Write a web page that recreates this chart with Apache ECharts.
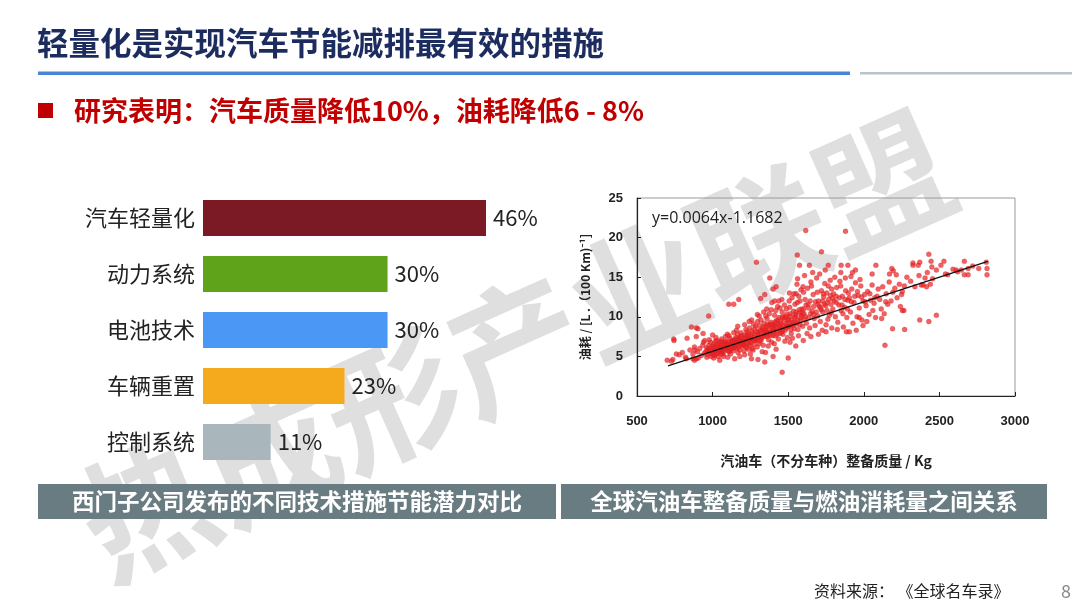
<!DOCTYPE html>
<html>
<head>
<meta charset="utf-8">
<script src="https://cdn.jsdelivr.net/npm/echarts@6/dist/echarts.min.js"></script>
<style>
  html, body { margin: 0; padding: 0; background: #fff; }
  #chart { width: 1080px; height: 608px; }
</style>
</head>
<body>
<div id="chart"></div>
<script>
const FONT = "'Noto Sans CJK SC', 'Noto Sans', sans-serif";

// 柱状图：不同技术措施节能潜力
const barCategories = ["汽车轻量化", "动力系统", "电池技术", "车辆重置", "控制系统"];
const barValues = [46, 30, 30, 23, 11];
const barColors = ["#7b1a24", "#5fa31a", "#4b97f6", "#f5aa1e", "#a9b6bb"];

// 散点图：整备质量(kg) 与 油耗(L/100km)
const xTicks = [500, 1000, 1500, 2000, 2500, 3000];
const yTicks = [0, 5, 10, 15, 20, 25];
const trendLine = [[705, 3.8], [2820, 17.0]];
const outlierPoints = [
  [700,4.5],[728,4.4],[743,7.2],[745,7.0],[760,5.3],[737,4.6],[831,7.3],[860,8.7],[893,8.6],[903,8.5],
  [870,4.7],[880,4.5],[826,4.7],[892,4.7],[882,5.8],[892,7.5],[937,7.9],[948,7.0],[974,10.1],[1000,7.7],
  [1107,11.6],[1140,11.6],[1173,12.2],[1290,16.9],[1318,12.3],[1345,12.8],[1378,14.9],[1400,13.5],[1410,12.0],[1420,13.8],
  [1146,4.7],[1212,5.2],[1047,4.5],[1257,4.7],[1345,4.3],[1400,5.0],[1460,3.0],[1500,4.8],
  [1616,20.9],[1879,20.8],[1560,17.8],[1575,16.5],[1640,16.5],[1720,18.2],[1765,16.5],[1850,16.5],[1895,16.5],[1925,15.6],
  [1945,15.9],[1885,8.1],[1905,8.1],[1995,8.9],[1970,9.9],[2055,15.4],[2080,16.5],[2170,15.4],[2185,16.1],[2195,15.8],
  [2215,15.3],[2190,8.5],[2140,6.4],[2255,13.2],[2265,10.8],[2255,10.8],[2270,8.4],[2325,16.8],[2360,16.5],[2370,16.9],
  [2325,16.5],[2405,14.9],[2440,14.1],[2380,14.0],[2370,9.6],[2430,17.9],[2445,17.0],[2450,16.3],[2415,13.8],[2430,9.4],
  [2480,10.2],[2510,16.5],[2530,17.0],[2555,15.3],[2610,15.9],[2645,15.9],[2665,17.0],[2665,15.3],[2690,15.3],[2690,16.1],
  [2810,16.9],[2815,16.1],[2815,15.3],
  [780,5.2],[800,5.5],[820,4.9],[850,5.8],[870,5.3],[880,6.2],[900,5.6],[915,6.0],[925,5.1],[935,6.4],
  [945,5.4],[905,4.8],[940,6.8],[1100,4.9],[1180,5.0],[1250,5.3],[1300,4.6],[1350,5.5],[1420,5.9],[1550,6.3],
  [1600,7.0],[1650,7.5],[1700,7.8],[1750,8.1]
];
const clusterPoints = [
  [955,5.6],[960,6.1],[965,5.2],[970,5.9],[975,6.4],[980,5.5],[985,6.8],[990,5.0],[995,6.2],[962,4.9],[978,7.1],[992,5.7],
  [1000,5.4],[1005,6.0],[1010,6.6],[1015,5.1],[1020,5.8],[1025,6.3],[1030,7.0],[1035,5.5],[1040,6.1],[1045,6.8],[1008,4.8],[1022,7.4],[1038,5.0],[1048,5.9],
  [1050,6.4],[1055,5.7],[1060,7.2],[1065,6.0],[1070,5.3],[1075,6.7],[1080,6.2],[1085,7.5],[1090,5.8],[1095,6.5],[1058,6.9],[1072,5.0],[1088,6.9],[1098,7.8],[1062,5.5],
  [1100,6.1],[1105,6.8],[1110,5.6],[1115,7.3],[1120,6.4],[1125,5.9],[1130,7.0],[1135,6.6],[1140,8.0],[1145,6.2],[1108,7.6],[1118,5.3],[1128,6.9],[1138,5.7],[1148,7.2],[1112,6.3],
  [1150,6.8],[1155,7.4],[1160,6.0],[1165,7.8],[1170,6.5],[1175,7.1],[1180,5.8],[1185,6.9],[1190,7.6],[1195,6.3],[1158,8.3],[1168,5.5],[1178,7.3],[1188,8.0],[1198,6.7],[1152,6.2],
  [1200,7.0],[1205,6.4],[1210,7.7],[1215,6.9],[1220,8.4],[1225,6.1],[1230,7.3],[1235,7.9],[1240,6.6],[1245,8.6],[1208,5.7],[1218,7.5],[1228,8.1],[1238,5.9],[1248,7.2],[1212,9.0],
  [1250,7.6],[1255,6.8],[1260,8.2],[1265,7.1],[1270,9.1],[1275,6.5],[1280,7.8],[1285,8.8],[1290,7.3],[1295,6.2],[1258,9.6],[1268,5.8],[1278,8.5],[1288,7.0],[1298,9.4],[1262,6.0],
  [1300,8.0],[1305,7.4],[1310,8.9],[1315,6.9],[1320,9.6],[1325,7.7],[1330,8.4],[1335,6.4],[1340,9.2],[1345,7.9],[1308,10.1],[1318,8.2],[1328,5.6],[1338,10.6],[1348,8.7],[1322,7.1],
  [1350,8.3],[1355,7.5],[1360,9.8],[1365,8.8],[1370,7.1],[1375,10.4],[1380,8.0],[1385,9.3],[1390,6.8],[1395,8.6],[1358,11.0],[1368,6.3],[1378,9.0],[1388,10.9],[1398,7.6],[1362,8.1],
  [1400,9.0],[1405,8.1],[1410,10.2],[1415,7.6],[1420,9.5],[1425,8.7],[1430,11.3],[1435,7.2],[1440,9.9],[1445,8.4],[1408,6.6],[1418,10.8],[1428,9.1],[1438,12.0],[1448,7.9],[1412,8.8],
  [1450,9.4],[1455,8.6],[1460,10.6],[1465,7.8],[1470,9.9],[1475,11.5],[1480,8.3],[1485,9.1],[1490,10.3],[1495,7.4],[1458,12.2],[1468,8.9],[1478,6.9],[1488,11.0],[1498,9.6],[1462,10.0],
  [1500,9.7],[1505,8.8],[1510,11.2],[1515,10.1],[1520,7.9],[1525,12.4],[1530,9.3],[1535,10.7],[1540,8.5],[1545,11.6],[1508,13.0],[1518,9.0],[1528,7.3],[1538,12.9],[1548,10.3],[1512,6.8],
  [1550,10.0],[1555,9.1],[1560,11.8],[1565,8.4],[1570,12.6],[1575,10.5],[1580,9.6],[1585,13.4],[1590,11.0],[1595,8.8],[1558,14.1],[1568,7.6],[1578,12.0],[1588,10.2],[1598,13.8],[1562,14.8],
  [1605,10.4],[1612,12.2],[1620,9.2],[1628,13.6],[1635,11.1],[1642,8.6],[1650,14.4],[1658,10.7],[1665,12.8],[1672,9.8],[1680,11.9],[1688,14.9],[1695,10.1],[1608,15.2],[1625,7.9],[1645,12.0],[1662,15.6],[1678,8.9],[1692,13.1],[1618,11.5],
  [1705,11.3],[1712,9.4],[1720,13.3],[1728,10.6],[1735,12.5],[1742,14.2],[1750,9.0],[1758,11.8],[1765,13.9],[1772,10.2],[1780,12.7],[1788,8.6],[1795,11.0],[1708,15.4],[1725,8.3],[1745,15.9],[1762,9.7],[1778,14.6],[1792,12.3],[1718,10.9],[1738,11.6],[1755,13.0],[1785,10.5],
  [1805,12.0],[1812,10.0],[1820,13.7],[1828,9.3],[1835,11.5],[1842,14.5],[1850,10.8],[1858,12.6],[1865,8.7],[1872,11.2],[1880,13.3],[1888,9.9],[1895,12.1],[1808,15.0],[1825,8.4],[1848,15.6],[1862,10.4],[1878,14.9],[1892,11.0],
  [1905,12.4],[1912,10.6],[1920,13.5],[1928,9.2],[1935,11.8],[1945,14.3],[1955,10.0],[1962,12.7],[1970,11.1],[1980,13.9],[1988,9.6],[1995,12.0],[1915,15.1],[1950,8.3],[1975,14.7],
  [2005,12.8],[2015,11.4],[2025,13.2],[2035,10.3],[2045,12.1],[2055,14.0],[2068,11.7],[2078,9.9],[2088,12.6],[2095,13.5],[2020,9.4],[2060,10.8],
  [2105,12.2],[2115,11.0],[2125,13.8],[2135,10.4],[2148,12.9],[2158,11.6],[2168,14.4],[2180,12.0],[2192,13.1],[2118,9.8],[2145,11.9],
  [2205,13.6],[2220,12.4],[2235,14.1],[2250,12.8],[2268,13.9],[2285,15.0],[2242,11.3],
  [2310,14.5],[2338,13.8],[2365,15.2],[2392,14.0],[2420,15.6],[2455,14.8],[2480,15.9],
  [2540,15.4],[2590,16.0],[2620,15.7],[2720,16.4],[2760,16.1]
];
// 密集区补充点
const densePoints = [
  [968,5.8],[983,6.0],[997,5.3],[1003,6.3],[1013,5.6],[1018,6.9],[1027,5.4],[1033,6.4],[1043,5.7],[1053,6.1],
  [1063,6.6],[1068,5.6],[1078,6.0],[1083,6.8],[1093,6.1],[1103,6.5],[1113,5.9],[1123,6.8],[1133,6.1],[1143,6.9],
  [1153,6.5],[1163,7.1],[1173,6.2],[1183,7.4],[1193,6.9],[1203,6.7],[1213,7.2],[1223,6.6],[1233,7.6],[1243,7.0],
  [1253,7.3],[1263,7.9],[1273,7.4],[1283,7.1],[1293,8.1],[1303,7.7],[1313,8.3],[1323,7.4],[1333,8.7],[1343,8.1],
  [1353,7.9],[1363,9.1],[1373,8.4],[1383,7.7],[1393,9.0],[1403,8.5],[1413,9.3],[1423,8.2],[1433,9.6],[1443,8.9],
  [1453,9.1],[1463,8.3],[1473,9.6],[1483,10.0],[1493,8.8],[1503,9.2],[1513,10.4],[1523,9.6],[1533,8.9],[1543,9.9],
  [1553,10.6],[1563,9.5],[1573,10.9],[1583,9.9],[1593,10.5],[1603,11.0],[1615,10.0],[1632,11.6],[1648,10.4],[1668,11.3],
  [1685,10.6],[1700,12.0],[1715,11.1],[1732,12.9],[1748,11.4],[1768,12.2],[1783,11.6],[1800,12.9],[1818,11.8],[1838,12.4],
  [1855,11.5],[1875,12.2],[1898,13.0],[1918,11.9],[1940,12.6],[1958,13.2],[1985,12.5],[2010,11.9],[2040,12.9],[2072,12.4],
  [1007,5.2],[1026,6.1],[1052,5.3],[1077,6.4],[1102,5.7],[1127,6.3],[1157,6.7],[1187,6.5],[1217,6.3],[1247,6.4],
  [1277,7.0],[1307,6.6],[1337,7.5],[1367,7.6],[1397,8.2],[1427,7.8],[1457,8.1],[1487,8.6],[1517,8.4],[1547,9.3],
  [1577,9.0],[1607,9.7],[1637,9.9],[1667,10.3],[1697,11.6],[1727,12.0],[1757,10.8],[1787,13.5],[1817,12.6],[1847,13.9],
  [1166,8.8],[1242,9.4],[1296,10.3],[1352,10.1],[1392,11.8],[1446,11.1],[1506,12.0],[1552,12.9],[1602,13.1],[1654,13.9]
];

const chart = echarts.init(document.getElementById("chart"));

chart.setOption({
  animation: false,
  backgroundColor: "#ffffff",
  textStyle: { fontFamily: FONT },
  grid: [
    { left: 203, top: 190, width: 307.6, height: 280 },
    { left: 637, top: 198, right: 65, bottom: 212, show: true, borderColor: "#9a9a9a", borderWidth: 1 }
  ],
  xAxis: [
    { gridIndex: 0, type: "value", min: 0, max: 50, show: false },
    {
      gridIndex: 1, type: "value", min: xTicks[0], max: xTicks[xTicks.length - 1], interval: 500,
      axisLine: { show: true, lineStyle: { color: "#222", width: 1.2 } },
      axisTick: { show: true, inside: true, length: 4, lineStyle: { color: "#222" } },
      axisLabel: { color: "#222", fontWeight: "bold", fontSize: 13, margin: 19, formatter: v => String(v), fontFamily: "Arial, 'Liberation Sans', sans-serif" },
      splitLine: { show: false },
      name: "汽油车（不分车种）整备质量 / Kg", nameLocation: "middle", nameGap: 58,
      nameTextStyle: { color: "#222", fontWeight: "bold", fontSize: 14 }
    }
  ],
  yAxis: [
    {
      gridIndex: 0, type: "category", data: barCategories, inverse: true,
      axisLine: { show: false }, axisTick: { show: false },
      axisLabel: { color: "#222", fontSize: 22, margin: 8 }
    },
    {
      gridIndex: 1, type: "value", min: yTicks[0], max: yTicks[yTicks.length - 1], interval: 5,
      axisLine: { show: true, lineStyle: { color: "#222", width: 1.2 } },
      axisTick: { show: true, inside: true, length: 4, lineStyle: { color: "#222" } },
      axisLabel: { color: "#222", fontWeight: "bold", fontSize: 13, margin: 14, fontFamily: "Arial, 'Liberation Sans', sans-serif" },
      splitLine: { show: false },
      name: "油耗 / [L .（100 Km)⁻¹]", nameLocation: "middle", nameGap: 46, nameRotate: 90,
      nameTextStyle: { color: "#222", fontWeight: "bold", fontSize: 12 }
    }
  ],
  series: [
    {
      type: "bar", xAxisIndex: 0, yAxisIndex: 0, barWidth: 36,
      data: barValues.map((v, i) => ({ value: v, itemStyle: { color: barColors[i] } })),
      label: { show: true, position: "right", distance: 7, color: "#222", fontSize: 22, formatter: "{c}%" },
      z: 3
    },
    {
      type: "scatter", xAxisIndex: 1, yAxisIndex: 1, symbolSize: 5,
      data: clusterPoints.concat(densePoints, outlierPoints),
      itemStyle: { color: "rgba(236,32,32,0.88)", borderColor: "rgba(190,40,50,0.6)", borderWidth: 0.5 },
      z: 3
    },
    {
      type: "line", xAxisIndex: 1, yAxisIndex: 1, data: trendLine, symbol: "none",
      lineStyle: { color: "#111", width: 1.3 }, z: 4
    }
  ],
  graphic: [
    // 水印
    {
      type: "text", x: 515, y: 345, rotation: 24 * Math.PI / 180, z: -10, silent: true,
      style: {
        text: "热成形产业联盟", fontSize: 134, fontWeight: "bold", fontFamily: FONT,
        fill: "rgba(150,150,150,0.3)", align: "center", verticalAlign: "middle"
      }
    },
    // 标题
    {
      type: "text", x: 37, y: 43, z: 10,
      style: { text: "轻量化是实现汽车节能减排最有效的措施", fontSize: 31.5, fontWeight: "bold", fontFamily: FONT, fill: "#1c2c5e", verticalAlign: "middle" }
    },
    { type: "rect", shape: { x: 38, y: 71.5, width: 812, height: 3.5 }, style: { fill: "#4a86d6" }, z: 10 },
    { type: "rect", shape: { x: 860, y: 72, width: 212, height: 2.5 }, style: { fill: "#b7c4c9" }, z: 10 },
    // 副标题
    { type: "rect", shape: { x: 38, y: 103, width: 15, height: 15 }, style: { fill: "#c00000" }, z: 10 },
    {
      type: "text", x: 74, y: 111, z: 10,
      style: { text: "研究表明：汽车质量降低10%，油耗降低6 - 8%", fontSize: 27, fontWeight: "bold", fontFamily: FONT, fill: "#c00000", verticalAlign: "middle" }
    },
    // 回归方程
    {
      type: "text", x: 652, y: 218, z: 10,
      style: { text: "y=0.0064x-1.1682", fontSize: 16, fontFamily: "'Open Sans', 'Noto Sans', sans-serif", fill: "#222", verticalAlign: "middle" }
    },
    // 图注
    { type: "rect", shape: { x: 38, y: 484, width: 518, height: 35 }, style: { fill: "#697c81" }, z: 10 },
    {
      type: "text", x: 297, y: 501.5, z: 11,
      style: { text: "西门子公司发布的不同技术措施节能潜力对比", fontSize: 22.5, fontWeight: "bold", fontFamily: FONT, fill: "#fff", align: "center", verticalAlign: "middle" }
    },
    { type: "rect", shape: { x: 561, y: 484, width: 486, height: 35 }, style: { fill: "#697c81" }, z: 10 },
    {
      type: "text", x: 804, y: 501.5, z: 11,
      style: { text: "全球汽油车整备质量与燃油消耗量之间关系", fontSize: 22.5, fontWeight: "bold", fontFamily: FONT, fill: "#fff", align: "center", verticalAlign: "middle" }
    },
    // 来源与页码
    {
      type: "text", x: 814, y: 591, z: 10,
      style: { text: "资料来源： 《全球名车录》", fontSize: 16, fontFamily: FONT, fill: "#222", verticalAlign: "middle" }
    },
    {
      type: "text", x: 1061, y: 591, z: 10,
      style: { text: "8", fontSize: 18, fontFamily: FONT, fill: "#888", verticalAlign: "middle" }
    }
  ]
});
</script>
</body>
</html>
